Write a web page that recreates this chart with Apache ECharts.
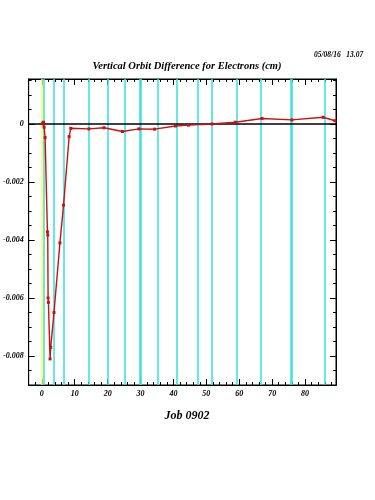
<!DOCTYPE html>
<html>
<head>
<meta charset="utf-8">
<script src="https://cdn.jsdelivr.net/npm/echarts@6/dist/echarts.min.js"></script>
<style>html,body{margin:0;padding:0;background:#fff;}#c{width:375px;height:500px;}</style>
</head>
<body>
<div id="c"></div>
<script>
// ---- data ----
const orbitX = [0.2, 0.5, 0.7, 1.0, 1.7, 1.8, 1.9, 2.0, 2.5, 2.7, 3.7, 5.5, 6.6, 8.3, 8.8, 14.3, 18.9, 24.5, 29.5, 34.3, 40.6, 44.6, 51.7, 58.8, 66.9, 76.0, 85.5, 89.1];
const orbitY = [0.00002, 0.00006, -0.00011, -0.00047, -0.00372, -0.00383, -0.0060, -0.00615, -0.0081, -0.0077, -0.0065, -0.0041, -0.0028, -0.00044, -0.00015, -0.00017, -0.00013, -0.00026, -0.00017, -0.00018, -0.00007, -0.00004, 0.0, 0.00006, 0.00019, 0.00014, 0.00023, 0.00011];
const yellowLines = [0];
const cyanLines = [0.7, 3.7, 6.6, 14.3, 20.1, 25.2, 29.7, 30.2, 35.1, 41.1, 47.4, 51.5, 59.3, 66.6, 75.8, 76.1, 85.9];
const xMajorTicks = [0, 10, 20, 30, 40, 50, 60, 70, 80];
const xMinorTicks = [-4, -2, 2, 4, 6, 8, 12, 14, 16, 18, 22, 24, 26, 28, 32, 34, 36, 38, 42, 44, 46, 48, 52, 54, 56, 58, 62, 64, 66, 68, 72, 74, 76, 78, 82, 84, 86, 88];
const yMajorTicks = [0, -0.002, -0.004, -0.006, -0.008];
const yMinorTicks = [0.0015, 0.001, 0.0005, -0.0005, -0.001, -0.0015, -0.0025, -0.003, -0.0035, -0.0045, -0.005, -0.0055, -0.0065, -0.007, -0.0075, -0.0085];
const titleText = 'Vertical Orbit Difference for Electrons (cm)';
const dateText = '05/08/16   13.07';
const xTitle = 'Job 0902';

const X_MIN = -4, X_MAX = 89.4, Y_MIN = -0.009, Y_MAX = 0.00155;
const fontFam = 'Liberation Serif';
const lblStyle = { fontFamily: fontFam, fontStyle: 'italic', fontWeight: 'bold', fontSize: 8, color: '#000' };

function xAx(pos, ticks, len, labels) {
  return {
    type: 'value', position: pos, min: X_MIN, max: X_MAX,
    axisLine: { show: true, onZero: false, lineStyle: { color: '#000', width: 1 } },
    axisTick: { show: true, inside: true, length: len, customValues: ticks, lineStyle: { color: '#000', width: 1 } },
    axisLabel: labels ? Object.assign({ show: true, customValues: ticks, margin: 5, formatter: v => String(Math.round(v)) }, lblStyle) : { show: false },
    splitLine: { show: false }
  };
}
function yAx(pos, ticks, len, labels) {
  return {
    type: 'value', position: pos, min: Y_MIN, max: Y_MAX,
    axisLine: { show: true, onZero: false, lineStyle: { color: '#000', width: 1 } },
    axisTick: { show: true, inside: true, length: len, customValues: ticks, lineStyle: { color: '#000', width: 1 } },
    axisLabel: labels ? Object.assign({ show: true, customValues: ticks, margin: 5, formatter: v => (Math.abs(v) < 1e-9 ? '0' : v.toFixed(3)) }, lblStyle) : { show: false },
    splitLine: { show: false }
  };
}

const chart = echarts.init(document.getElementById('c'), null, { renderer: 'canvas' });
const vLines = yellowLines.map(v => ({ xAxis: v, lineStyle: { color: '#ffff55', width: 1.5, type: 'solid' } }))
  .concat(cyanLines.map(v => ({ xAxis: v, lineStyle: { color: '#33e0e0', width: 1.5, type: 'solid' } })));

chart.setOption({
  animation: false,
  backgroundColor: '#fff',
  title: [
    { text: titleText, left: 182, top: 56, textAlign: 'center',
      textStyle: { fontFamily: fontFam, fontStyle: 'italic', fontWeight: 'bold', fontSize: 10.5, color: '#000' } },
    { text: dateText, left: 309, top: 46,
      textStyle: { fontFamily: fontFam, fontStyle: 'italic', fontWeight: 'bold', fontSize: 7.5, color: '#000' } },
    { text: xTitle, left: 182, top: 405, textAlign: 'center',
      textStyle: { fontFamily: fontFam, fontStyle: 'italic', fontWeight: 'bold', fontSize: 12, color: '#000' } }
  ],
  grid: { left: 28, right: 39, top: 79, bottom: 115, show: true, borderColor: '#000', borderWidth: 1, backgroundColor: 'transparent' },
  xAxis: [
    xAx('bottom', xMajorTicks, 6, true),
    xAx('bottom', xMinorTicks, 3, false),
    xAx('top', xMajorTicks, 6, false),
    xAx('top', xMinorTicks, 3, false)
  ],
  yAxis: [
    yAx('left', yMajorTicks, 6, true),
    yAx('left', yMinorTicks, 3, false),
    yAx('right', yMajorTicks, 6, false),
    yAx('right', yMinorTicks, 3, false)
  ],
  series: [
    {
      type: 'line', xAxisIndex: 0, yAxisIndex: 0, data: [], silent: true,
      markLine: { silent: true, symbol: 'none', label: { show: false }, animation: false,
        data: vLines.concat([{ yAxis: 0, lineStyle: { color: '#000', width: 1.5, type: 'solid' } }]) }
    },
    {
      type: 'line', xAxisIndex: 0, yAxisIndex: 0,
      data: orbitX.map((x, i) => [x, orbitY[i]]),
      symbol: 'rect', symbolSize: 3, showSymbol: true,
      lineStyle: { color: '#cc1010', width: 1.4 },
      itemStyle: { color: '#cc1010' },
      z: 5
    }
  ]
});
</script>
</body>
</html>
